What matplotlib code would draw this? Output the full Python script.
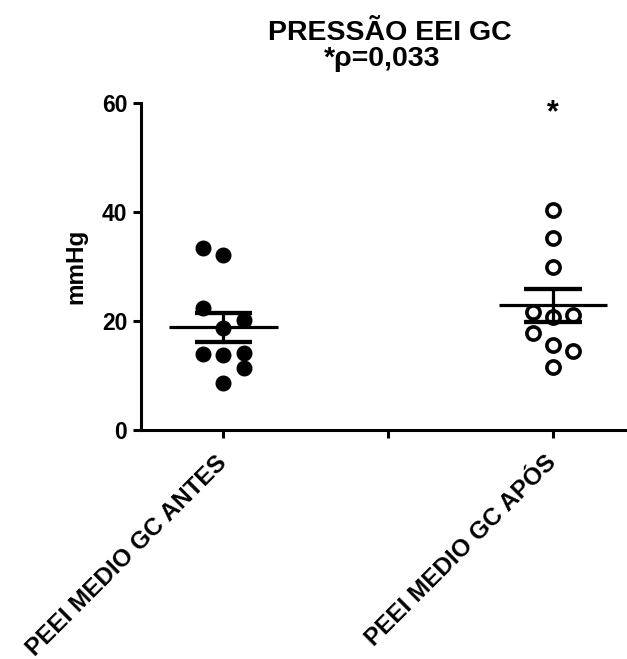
import numpy as np
import matplotlib
matplotlib.use("Agg")
import matplotlib.pyplot as plt
from matplotlib.transforms import ScaledTranslation

plt.rcParams['font.family'] = ['Liberation Sans', 'DejaVu Sans']
plt.rcParams['font.weight'] = 'bold'

categories = ["PEEI MEDIO GC ANTES", "", "PEEI MEDIO GC APÓS"]
antes = [33.4, 32.1, 22.4, 20.2, 18.7, 13.9, 13.8, 14.1, 11.4, 8.6]
apos = [40.4, 35.2, 29.9, 21.7, 20.7, 21.1, 17.8, 15.6, 14.5, 11.6]
antes_slots = [-1, 0, -1, 1, 0, -1, 0, 1, 1, 0]
apos_slots = [0, 0, 0, -1, 0, 1, -1, 0, 1, 0]
yticks = [0, 20, 40, 60]
title1 = "PRESSÃO EEI GC"
title2 = "*ρ=0,033"

fig = plt.figure(figsize=(6.27, 6.59), dpi=100)
ax = fig.add_axes([0.225, 0.3475, 0.775, 0.4962])

slot_w = 0.122
lw = 2.3

def draw_group(xc, vals, slots, filled):
    vals = np.asarray(vals)
    xs = xc + np.asarray(slots) * slot_w
    m = vals.mean()
    sem = vals.std(ddof=1) / np.sqrt(len(vals))
    if filled:
        ax.plot(xs, vals, 'o', ms=10.5, mfc='black', mec='black', zorder=2)
    else:
        ax.plot(xs, vals, 'o', ms=9.5, mfc='white', mec='black', mew=2.6, zorder=2)
    ax.plot([xc - 0.33, xc + 0.33], [m, m], color='black', lw=lw, zorder=3, solid_capstyle='butt')
    ax.plot([xc, xc], [m - sem, m + sem], color='black', lw=lw, zorder=3)
    for v in (m - sem, m + sem):
        ax.plot([xc - 0.175, xc + 0.175], [v, v], color='black', lw=lw + 0.8, zorder=3, solid_capstyle='butt')

draw_group(0, antes, antes_slots, True)
draw_group(2, apos, apos_slots, False)

ax.text(2, 58.2, "*", ha='center', va='center', fontsize=22, fontweight='bold')

ax.set_xlim(-0.5, 2.45)
ax.set_ylim(0, 60)
ax.set_yticks(yticks)
ax.set_xticks(range(len(categories)))
ax.set_xticklabels(categories, rotation=45, ha='right', va='center', rotation_mode='anchor', fontsize=17.5)
off = ScaledTranslation(-12 / 100, 0, fig.dpi_scale_trans)
for lab in ax.get_xticklabels():
    lab.set_transform(lab.get_transform() + off)
for s in ['top', 'right']:
    ax.spines[s].set_visible(False)
for s in ['left', 'bottom']:
    ax.spines[s].set_linewidth(2.2)
ax.tick_params(axis='both', width=2.2, length=6, pad=4)
ax.tick_params(axis='y', labelsize=16.5)
ax.tick_params(axis='x', pad=15)
for lab in ax.get_xticklabels() + ax.get_yticklabels():
    lab.set_fontweight('bold')
ax.set_ylabel("mmHg", fontsize=17.5, fontweight='bold', labelpad=10)

fig.text(390 / 627, 1 - 33 / 659, title1, ha='center', va='center', fontsize=20.5, fontweight='bold')
fig.text(382 / 627, 1 - 59 / 659, title2, ha='center', va='center', fontsize=20.5, fontweight='bold')

fig.savefig("out.png", dpi=100)
